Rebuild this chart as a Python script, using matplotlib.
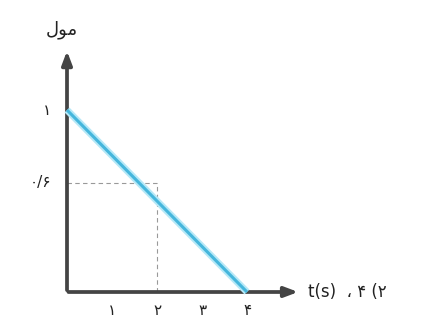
import numpy as np
import matplotlib.pyplot as plt

# data
t = [0, 4]
mol = [1, 0]
xtick_vals = [1, 2, 3, 4]
xtick_labels = ['۱', '۲', '۳', '۴']
ytick_vals = [1, 0.6]
ytick_labels = ['۱', '۰/۶']
t_mark = 2
mol_mark = 0.6

plt.rcParams['font.family'] = ['DejaVu Sans']

fig = plt.figure(figsize=(4.24, 3.23), dpi=100)
ax = fig.add_axes([0, 0, 1, 1])
ax.set_xlim(-67 / 45, (424 - 67) / 45)
ax.set_ylim(-31 / 182, 292 / 182)
ax.axis('off')

# axes with arrows
ax.annotate('', xy=(0, 1.34), xytext=(0, -0.005),
            arrowprops=dict(arrowstyle='-|>,head_length=0.8,head_width=0.3', color='#444444', lw=2.7))
ax.annotate('', xy=(5.2, 0), xytext=(-0.03, 0),
            arrowprops=dict(arrowstyle='-|>,head_length=0.8,head_width=0.3', color='#444444', lw=2.7))

# the line
ax.plot(t, mol, color='#b5e8f7', lw=5, solid_capstyle='butt', zorder=3)
ax.plot(t, mol, color='#45b6dc', lw=2.2, solid_capstyle='butt', zorder=4)

# dashed guides
ax.plot([0, t_mark], [mol_mark, mol_mark], ls='--', color='#999999', lw=0.8, dashes=(4, 3))
ax.plot([t_mark, t_mark], [0, mol_mark], ls='--', color='#999999', lw=0.8, dashes=(4, 3))

for v, lab in zip(xtick_vals, xtick_labels):
    ax.text(v, -0.1, lab, ha='center', va='center', fontsize=11, color='#222222')
for v, lab in zip(ytick_vals, ytick_labels):
    ax.text(-0.35, v, lab, ha='right', va='center', fontsize=11, color='#222222')

ax.text(-0.12, 1.44, 'ﻝﻮﻣ', ha='center', va='center', fontsize=13, color='#222222')
ax.text(5.35, 0, 't(s)  ، ۴ (۲', ha='left', va='center', fontsize=12, color='#222222')

plt.savefig('out.png', dpi=100)
